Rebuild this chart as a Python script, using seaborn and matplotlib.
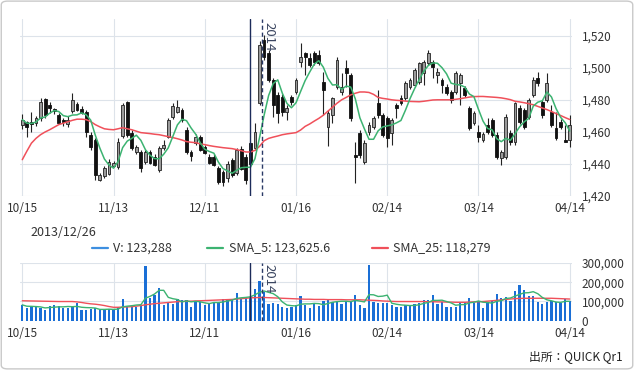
import numpy as np
import pandas as pd
import matplotlib
matplotlib.use("Agg")
import matplotlib.pyplot as plt
import matplotlib.transforms as mtransforms
from matplotlib.lines import Line2D
from matplotlib.patches import FancyBboxPatch
import seaborn as sns

# ============================================================
# DATA (daily 2013/10/15 - 2014/04/14)
# ============================================================

tick_pos = [0, 20, 40, 60, 80, 100, 120]
tick_labels = ["10/15", "11/13", "12/11", "01/16", "02/14", "03/14", "04/14"]

opens = [1464.6, 1466.4, 1466.4, 1465.8, 1468.9, 1480.8, 1477.0, 1474.5, 1470.8, 1467.5,
         1465.2, 1473.3, 1477.6, 1474.5, 1472.7, 1458.3, 1455.2, 1430.3, 1432.2, 1434.0,
         1439.0, 1438.4, 1457.5, 1478.9, 1459.6, 1447.7, 1447.7, 1441.5, 1447.7, 1444.6,
         1436.5, 1450.2, 1457.1, 1469.5, 1472.7, 1473.9, 1461.4, 1447.7, 1453.3, 1457.1,
         1450.8, 1444.6, 1444.6, 1437.8, 1435.0, 1431.0, 1442.7, 1434.6, 1449.5, 1444.6,
         1453.0, 1450.2, 1478.3, 1517.5, 1509.4, 1492.6, 1483.2, 1482.0, 1472.7, 1482.0,
         1485.1, 1503.8, 1509.4, 1506.3, 1509.4, 1508.2, 1491.3, 1463.0, 1470.8, 1488.2,
         1485.1, 1500.1, 1495.7, 1445.9, 1459.6, 1441.5, 1460.2, 1463.3, 1478.3, 1470.8,
         1468.9, 1459.6, 1477.0, 1481.4, 1481.4, 1488.2, 1489.5, 1491.3, 1496.9, 1503.2,
         1503.8, 1495.7, 1492.6, 1488.2, 1485.1, 1485.1, 1490.7, 1487.6, 1475.1, 1465.8,
         1460.2, 1455.2, 1464.6, 1467.7, 1458.3, 1444.0, 1444.6, 1459.6, 1454.0, 1475.1,
         1473.9, 1469.5, 1483.2, 1493.8, 1478.9, 1480.1, 1472.7, 1462.7, 1466.4, 1455.2,
         1455.2]

closes = [1467.7, 1463.3, 1465.0, 1468.9, 1478.9, 1470.8, 1475.1, 1473.3, 1465.8, 1466.0,
          1467.7, 1480.1, 1473.9, 1472.0, 1460.2, 1450.8, 1433.4, 1433.4, 1437.8, 1441.5,
          1440.9, 1454.0, 1477.0, 1458.0, 1450.2, 1450.8, 1437.8, 1447.7, 1440.9, 1439.6,
          1450.2, 1452.1, 1467.7, 1476.4, 1475.8, 1467.7, 1447.7, 1445.0, 1457.1, 1449.0,
          1447.1, 1440.9, 1439.6, 1429.0, 1429.0, 1440.0, 1433.4, 1449.0, 1437.0, 1430.3,
          1440.0, 1460.2, 1514.4, 1506.9, 1492.6, 1477.0, 1472.0, 1472.7, 1475.1, 1478.9,
          1492.6, 1506.9, 1506.9, 1501.9, 1503.8, 1503.2, 1486.4, 1472.0, 1481.4, 1505.0,
          1488.2, 1496.9, 1468.9, 1444.6, 1445.9, 1453.3, 1464.6, 1468.9, 1470.8, 1458.3,
          1456.5, 1467.7, 1475.1, 1478.3, 1490.7, 1492.6, 1498.8, 1503.2, 1503.8, 1509.4,
          1500.7, 1497.6, 1489.5, 1484.5, 1480.1, 1496.9, 1495.7, 1483.2, 1462.7, 1472.0,
          1457.1, 1459.0, 1460.2, 1458.3, 1444.6, 1447.7, 1469.5, 1454.0, 1478.3, 1466.4,
          1463.3, 1480.1, 1492.6, 1490.7, 1470.8, 1490.7, 1464.6, 1456.5, 1463.3, 1454.0,
          1464.6]

highs = [1471, 1467, 1472.7, 1470, 1481, 1481.5, 1478.9, 1475, 1472, 1469,
         1470, 1484.5, 1479, 1476, 1473.5, 1460, 1456, 1434.5, 1439, 1443,
         1442, 1456, 1478, 1479.5, 1461, 1452, 1448.5, 1449, 1449, 1446,
         1451, 1455.2, 1469, 1478, 1480, 1475, 1463, 1449, 1459, 1458,
         1452, 1446, 1446, 1439, 1436, 1442, 1444, 1450, 1451, 1446,
         1454, 1465.8, 1517, 1520.6, 1511, 1494, 1485, 1484, 1477, 1483,
         1494, 1515.6, 1510, 1509.4, 1510.5, 1511.3, 1497.6, 1474, 1482, 1507,
         1497, 1505, 1497, 1454, 1461, 1455, 1466, 1470, 1486, 1472,
         1470, 1469, 1478, 1483, 1492, 1494, 1500, 1504, 1505, 1511.3,
         1505, 1500.1, 1494, 1490, 1486, 1498, 1497, 1489, 1476.5, 1473,
         1464.6, 1460, 1469, 1469, 1460, 1449, 1471, 1461, 1479, 1477,
         1475, 1481, 1494.5, 1497.6, 1480, 1497, 1477, 1472.7, 1468, 1464.6,
         1470.8]

lows = [1462, 1457, 1460.2, 1464, 1467, 1469, 1472, 1471.5, 1465, 1464,
        1463, 1472, 1473, 1471, 1457, 1449, 1430.3, 1429.5, 1431, 1433,
        1438, 1437, 1456.5, 1457, 1449, 1446, 1435, 1440, 1440, 1438.5,
        1435, 1449, 1456, 1468, 1472, 1466, 1446, 1442, 1452, 1448,
        1446, 1440, 1439, 1427.2, 1426, 1428.5, 1432, 1433, 1436, 1427.2,
        1438, 1449, 1477, 1505, 1491, 1469.5, 1465.8, 1470, 1467.7, 1477,
        1484, 1500.7, 1495.7, 1500.7, 1502, 1502, 1470.8, 1451, 1465.8, 1487,
        1483, 1488, 1467, 1428.4, 1444, 1440, 1458, 1462, 1469, 1457,
        1450.8, 1452, 1469, 1477, 1480, 1487, 1488, 1490, 1489.5, 1502,
        1493.8, 1490.7, 1484.5, 1483, 1478.3, 1484, 1477, 1482, 1461.5, 1464.5,
        1454, 1454, 1459, 1457, 1443, 1439.6, 1443, 1452, 1452, 1465,
        1462, 1468, 1482, 1489, 1469, 1479, 1463, 1455.2, 1462, 1453.5,
        1450.8]

# 25-day average as drawn (includes days before the window)
sma25_price = [1442.7, 1448, 1453, 1456, 1458.3, 1460, 1461.4, 1463, 1464.6, 1465.5,
               1466.4, 1467.3, 1468, 1468, 1467.7, 1466.5, 1464.6, 1463.2, 1462, 1461.6,
               1461.4, 1462, 1462.7, 1462, 1461.4, 1460.5, 1459.6, 1459.3, 1459, 1458.6,
               1458.3, 1457.7, 1457.1, 1456.5, 1455.8, 1455, 1454, 1453.6, 1453.3, 1452.6,
               1452.1, 1451.5, 1451, 1450.6, 1450.2, 1449.9, 1449.6, 1449, 1448.3, 1447.5,
               1447.5, 1448.5, 1451, 1454.5, 1456, 1456.8, 1457.5, 1458.3, 1458.8, 1459.2,
               1459.6, 1461.2, 1463.5, 1465, 1466.8, 1468.5, 1470.5, 1473, 1475.5, 1478,
               1480.1, 1481.6, 1483.2, 1484.2, 1485, 1485, 1484.7, 1483.5, 1481.6, 1481,
               1480.6, 1480.1, 1479.8, 1479.6, 1479.3, 1479.1, 1479, 1478.9, 1479.2, 1479.6,
               1480, 1480.1, 1480.1, 1480.1, 1480.1, 1480.4, 1480.8, 1481.3, 1481.8, 1482.1,
               1482.2, 1482.2, 1482, 1481.8, 1481.6, 1481.3, 1480.8, 1480.2, 1479.2, 1478.8,
               1478.3, 1477.7, 1477, 1476, 1475, 1474, 1472.8, 1471.5, 1470.3, 1469,
               1467.8]

# volume in thousands of shares
volume_k = [81.6, 67.4, 72.6, 69.2, 64, 55, 77.9, 81.6, 77.9, 64,
            64, 72.6, 90, 55, 55, 60.5, 64, 55, 55, 60.5,
            55, 72.6, 113, 72.6, 72.6, 72.6, 81.6, 283, 120, 134,
            169, 81.6, 99, 85, 113, 108, 108, 72.6, 99, 99,
            81.6, 90, 99, 99, 113, 108, 113, 142.8, 116, 123,
            123.288, 165, 207.9, 150, 88, 90, 85, 72.6, 67.4, 72.6,
            81.6, 130, 81.6, 67.4, 85, 76, 102.6, 113, 99, 102.6,
            85, 102.6, 102.6, 134, 81.6, 64, 292, 99, 90, 90,
            90, 81.6, 72.6, 72.6, 81.6, 81.6, 85, 90, 107.8, 107.8,
            134, 85, 95.5, 72.6, 72.6, 72.6, 99, 99, 116.6, 90,
            104, 67.4, 90, 102.6, 137.6, 120, 123.5, 102.6, 151.6, 183,
            160, 128.5, 128.5, 99, 85, 99, 102.6, 95.5, 90, 113,
            100]

sma25_vol_k = [103, 102.5, 102, 101.5, 101, 100.5, 100, 99.5, 99, 99,
               99, 99, 97, 94, 90, 87, 85, 82, 78, 73,
               69, 69, 70, 71, 72, 75, 78, 82, 85, 88,
               90, 92, 94, 96, 98, 99, 100, 101, 102, 103,
               104, 105, 106, 107, 108, 109, 110, 112, 114, 116,
               118.3, 119, 120, 120, 119, 118, 117, 116, 115, 114,
               113, 112, 111, 111, 110, 110, 110, 109, 109, 109,
               109, 108, 108, 108, 108, 107, 106, 105, 104, 102,
               101, 100, 99, 99, 99, 99, 99, 99, 99, 98,
               98, 97, 97, 96, 96, 95, 95, 95, 96, 97,
               98, 99, 101, 103, 105, 108, 110, 112, 114, 115,
               116, 116, 116, 116, 116, 116, 116, 115, 114, 113,
               112]

cursor_idx = 50          # 2013/12/26
year_break = 52.5        # between 12/30 and 01/06

# ============================================================
# FRAME
# ============================================================

df = pd.DataFrame({
    "idx": np.arange(len(closes)),
    "open": opens,
    "high": highs,
    "low": lows,
    "close": closes,
    "sma25": sma25_price,
    "volume": np.array(volume_k) * 1000,
    "vsma25": np.array(sma25_vol_k) * 1000,
})
df["sma5"] = df["close"].rolling(5, min_periods=1).mean()
df["vsma5"] = df["volume"].rolling(5, min_periods=1).mean()

# ============================================================
# STYLE
# ============================================================

sns.set_theme(style="white")
plt.rcParams["font.family"] = ["Noto Sans CJK JP", "DejaVu Sans"]

GREEN = "#3cb371"
RED = "#f0505a"
BLUE = "#1a6fd6"
GRID = "#dde3ea"
TXT = "#333333"
NAVY = "#1c2b5a"

fig = plt.figure(figsize=(6.34, 3.70), dpi=100)
fig.patch.set_facecolor("white")

ax = fig.add_axes([20 / 634, 1 - 196 / 370, 552 / 634, 177 / 370])
axv = fig.add_axes([20 / 634, 1 - 320.5 / 370, 552 / 634, 57.5 / 370])

# ============================================================
# PRICE PANEL
# ============================================================

up = df["close"] >= df["open"]
body = (df["close"] - df["open"]).abs().clip(lower=0.6)
bottom = df[["open", "close"]].min(axis=1)

ax.vlines(df["idx"], df["low"], df["high"], color="#222222", lw=0.8, zorder=2)
ax.bar(df["idx"][up], body[up], bottom=bottom[up], width=0.62,
       color="#9a9a9a", edgecolor="#222222", linewidth=0.6, zorder=3)
ax.bar(df["idx"][~up], body[~up], bottom=bottom[~up], width=0.62,
       color="#111111", edgecolor="#111111", linewidth=0.6, zorder=3)

sns.lineplot(data=df, x="idx", y="sma25", ax=ax, color=RED, lw=1.1, zorder=4)
sns.lineplot(data=df, x="idx", y="sma5", ax=ax, color=GREEN, lw=1.1, zorder=5)

ax.set_xlim(-0.5, 120.5)
ax.set_ylim(1420, 1530.6)
ax.set_yticks([1420, 1440, 1460, 1480, 1500, 1520])
ax.set_yticklabels(["1,420", "1,440", "1,460", "1,480", "1,500", "1,520"])

# ============================================================
# VOLUME PANEL
# ============================================================

axv.bar(df["idx"], df["volume"], width=0.5, color=BLUE, linewidth=0, zorder=2)
sns.lineplot(data=df, x="idx", y="vsma25", ax=axv, color=RED, lw=1.0, zorder=3)
sns.lineplot(data=df, x="idx", y="vsma5", ax=axv, color=GREEN, lw=1.0, zorder=4)

axv.set_xlim(-0.5, 120.5)
axv.set_ylim(0, 300000)
axv.set_yticks([0, 100000, 200000, 300000])
axv.set_yticklabels(["0", "100,000", "200,000", "300,000"])

# ============================================================
# COMMON AXIS LOOK
# ============================================================

for a in (ax, axv):
    a.set_xticks(tick_pos)
    a.set_xticklabels(tick_labels)
    a.yaxis.tick_right()
    a.tick_params(axis="x", length=0, labelsize=8.5, colors=TXT, pad=4.5)
    a.tick_params(axis="y", length=0, labelsize=8.5, colors=TXT, pad=7)
    a.grid(True, color=GRID, lw=0.8)
    a.set_axisbelow(True)
    a.set_xlabel("")
    a.set_ylabel("")
    for s in a.spines.values():
        s.set_visible(False)
    a.set_facecolor("white")

    a.axvline(cursor_idx, color=NAVY, lw=1.0, zorder=6)
    a.axvline(year_break, color="#2a3a66", lw=1.0, ls=(0, (3, 2)), zorder=6)

    trans = mtransforms.blended_transform_factory(a.transData, a.transAxes)
    a.text(year_break + 0.25, 0.985, "2014", rotation=270, ha="left", va="top",
           fontsize=9.5, color="#3a4560", transform=trans, zorder=7)

# ============================================================
# LEGEND / LABELS
# ============================================================

fig.text(30 / 634, 1 - 232 / 370, "2013/12/26", fontsize=9, color=TXT,
         ha="left", va="center")

legend_y = 1 - 248 / 370
legend_items = [
    (92, 108, 113, "#3d8fe0", "V: 123,288"),
    (207, 223, 229, GREEN, "SMA_5: 123,625.6"),
    (372, 388, 393, RED, "SMA_25: 118,279"),
]
for x0, x1, xt, col, lab in legend_items:
    fig.add_artist(Line2D([x0 / 634, x1 / 634], [legend_y, legend_y],
                          transform=fig.transFigure, color=col, lw=1.6))
    fig.text(xt / 634, legend_y, lab, fontsize=9, color=TXT,
             ha="left", va="center")

fig.text(623 / 634, 1 - 357 / 370, "出所：QUICK Qr1", fontsize=8.5,
         color="#222222", ha="right", va="center")

fig.add_artist(FancyBboxPatch((0.002, 0.003), 0.996, 0.994,
                              boxstyle="round,pad=0,rounding_size=0.01",
                              transform=fig.transFigure, fill=False,
                              ec="#c9c9c9", lw=1.0))

fig.savefig("out.png", dpi=100, facecolor="white")
